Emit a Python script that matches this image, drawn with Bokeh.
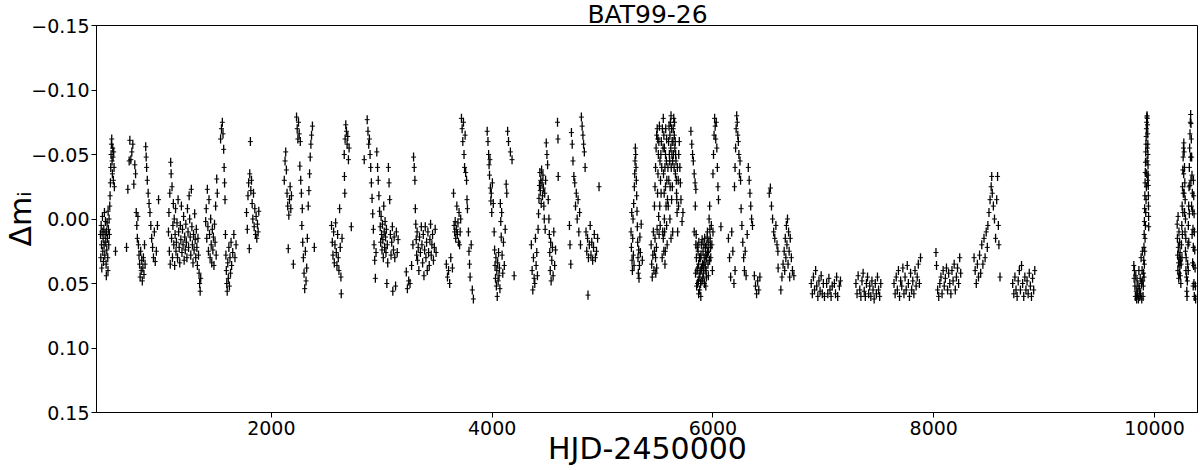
from bokeh.plotting import figure
from bokeh.models import Range1d, FixedTicker, ColumnDataSource
from bokeh.embed import file_html
from bokeh.resources import INLINE

TITLE = "BAT99-26"
X_LABEL = "HJD-2450000"
Y_LABEL = "Δmᵢ"
x_ticks = [2000, 4000, 6000, 8000, 10000]
y_ticks = [-0.15, -0.10, -0.05, 0.00, 0.05, 0.10, 0.15]
y_tick_labels = ["−0.15", "−0.10", "−0.05", "0.00", "0.05", "0.10", "0.15"]
err = 0.0035

season_01 = [(452,0.012),(455,0.030),(458,0.005),(461,0.020),(464,0.038),(467,0.010),(470,-0.002),(473,0.025),(476,0.015),(479,0.033),(482,0.008),(485,0.020),(488,-0.005),(491,0.028),(494,0.012),(497,0.002),(500,0.018),(503,0.035),(506,0.010),(509,0.024),(512,0.003),(515,0.015),(518,0.030),(521,-0.006),(524,0.008),(527,0.020),(530,0.000),(505,0.044),(520,0.040),(533,0.012),(536,-0.010),(539,-0.018),(542,-0.028),(545,-0.040),(548,-0.050),(551,-0.058),(554,-0.062),(557,-0.045),(560,-0.035),(563,-0.055),(566,-0.048),(569,-0.030),(572,-0.052),(575,-0.040),(578,-0.025),(588,0.025)]
season_02 = [(688,0.022),(700,-0.023),(712,-0.045),(718,-0.061),(727,-0.046),(736,-0.052),(745,-0.058),(754,-0.027),(763,-0.042),(770,-0.035),(776,-0.005),(781,0.005),(786,0.015),(791,-0.002),(796,0.020),(801,0.028),(806,0.035),(811,0.045),(816,0.025),(821,0.040),(826,0.032),(831,0.048),(836,0.038),(841,0.030),(846,0.043),(851,0.020),(856,0.035),(862,-0.056),(866,-0.048),(870,-0.040),(876,-0.030),(884,-0.020),(892,-0.012),(900,-0.005),(908,0.005),(916,0.015),(924,0.022),(932,0.030),(940,0.010),(948,0.033),(958,0.025),(968,0.005),(978,-0.015)]
season_03 = [(1068,0.010),(1072,-0.005),(1076,0.025),(1080,-0.020),(1084,0.035),(1088,-0.044),(1092,-0.035),(1096,0.015),(1100,-0.025),(1104,0.030),(1108,0.005),(1112,-0.012),(1116,0.020),(1120,0.000),(1124,0.036),(1128,0.012),(1132,-0.008),(1136,0.025),(1140,0.018),(1145,0.003),(1150,0.030),(1155,-0.015),(1160,0.010),(1165,0.022),(1170,0.034),(1175,0.005),(1180,0.016),(1185,-0.010),(1190,0.026),(1195,0.008),(1200,0.020),(1205,-0.002),(1210,0.032),(1215,0.014),(1220,0.024),(1225,0.004),(1230,0.018),(1235,0.030),(1240,-0.008),(1245,0.010),(1250,0.022),(1255,-0.018),(1260,0.000),(1265,0.014),(1270,0.028),(1275,-0.023),(1280,0.006),(1285,0.020),(1290,0.034),(1295,0.012),(1300,0.024),(1305,-0.004),(1310,0.016),(1315,0.030),(1320,0.008),(1325,0.022),(1330,0.036),(1335,0.015),(1340,0.028),(1345,0.042),(1350,0.050),(1355,0.056),(1360,0.046),(1405,0.002),(1410,-0.008),(1415,0.015),(1420,-0.023),(1425,0.006),(1430,0.025),(1435,-0.015),(1440,0.012),(1445,0.030),(1450,0.000),(1455,0.020),(1460,0.034),(1465,0.008),(1470,0.024),(1475,0.014),(1480,0.036),(1485,0.004),(1490,0.018),(1495,-0.010),(1500,0.028),(1505,-0.031),(1510,-0.020),(1540,-0.062),(1548,-0.070),(1556,-0.075),(1562,-0.066),(1568,-0.054),(1572,-0.040),(1576,-0.028),(1580,-0.015),(1584,0.012),(1588,0.028),(1592,0.040),(1596,0.050),(1600,0.056),(1605,0.034),(1610,0.046),(1615,0.022),(1620,0.052),(1625,0.030),(1630,0.042),(1635,0.018),(1640,0.036),(1650,0.026),(1660,0.012),(1670,0.030),(1680,0.020)]
season_04 = [(1775,-0.005),(1782,0.008),(1788,-0.018),(1794,-0.028),(1800,0.023),(1804,-0.035),(1810,-0.060),(1814,-0.022),(1820,-0.030),(1826,-0.012),(1832,0.000),(1838,-0.020),(1844,0.006),(1850,-0.008),(1856,0.012),(1862,-0.002),(1868,0.015),(1874,0.004),(1880,0.010),(1886,-0.006)]
season_05 = [(2117,-0.030),(2124,-0.045),(2130,-0.052),(2136,-0.038),(2142,-0.020),(2148,-0.010),(2153,0.023),(2158,-0.003),(2164,-0.015),(2170,-0.025),(2176,-0.008),(2182,-0.018),(2199,0.035),(2228,-0.079),(2234,-0.070),(2240,-0.062),(2246,-0.075),(2252,-0.066),(2258,-0.041),(2262,-0.060),(2266,-0.030),(2272,-0.020),(2276,0.005),(2280,-0.008),(2284,0.018),(2290,0.030),(2296,0.042),(2302,0.054),(2308,0.025),(2314,0.048),(2320,0.038),(2326,0.015),(2334,-0.010),(2340,-0.022),(2346,-0.035),(2352,-0.048),(2358,-0.058),(2364,-0.065),(2372,-0.072),(2389,0.022)]
season_06 = [(2545,0.005),(2552,0.018),(2558,0.028),(2564,0.010),(2570,0.034),(2576,0.020),(2582,0.003),(2588,0.026),(2594,0.036),(2600,0.012),(2606,0.030),(2612,0.040),(2618,-0.008),(2624,0.022),(2630,0.045),(2633,0.058),(2640,0.015),(2660,-0.050),(2662,-0.033),(2665,-0.020),(2668,-0.062),(2674,-0.073),(2680,-0.068),(2686,-0.058),(2692,-0.064),(2698,-0.046),(2704,-0.055),(2724,0.006)]
season_07 = [(2841,-0.046),(2868,-0.077),(2875,-0.068),(2882,-0.058),(2888,-0.062),(2894,-0.050),(2900,-0.040),(2906,-0.028),(2912,-0.016),(2918,-0.004),(2924,0.008),(2930,0.020),(2936,0.032),(2942,0.046),(2948,0.026),(2955,-0.052),(2962,-0.040),(2968,-0.030),(2974,-0.018),(2980,-0.006),(2986,0.006),(2990,0.018),(2994,-0.002),(2998,0.012),(3002,0.024),(3006,0.004),(3010,0.016),(3014,0.030),(3018,-0.010),(3022,0.010),(3026,0.022),(3030,0.002),(3034,0.014),(3038,0.026),(3042,0.008),(3046,0.050),(3050,0.020),(3054,0.034),(3060,-0.040),(3066,-0.028),(3072,-0.015),(3078,0.012),(3084,0.028),(3090,0.018),(3096,0.006),(3100,0.056),(3106,0.024),(3112,0.014),(3118,0.030),(3125,0.052),(3132,0.010),(3140,0.026),(3148,0.016)]
season_08 = [(3222,0.041),(3232,0.054),(3244,0.048),(3256,0.050),(3270,0.036),(3282,0.020),(3288,-0.048),(3294,-0.040),(3300,-0.030),(3304,-0.008),(3308,0.004),(3312,0.016),(3316,0.028),(3320,0.010),(3324,0.032),(3330,0.022),(3336,0.040),(3342,0.014),(3350,0.026),(3358,0.006),(3364,0.020),(3370,0.034),(3376,0.012),(3382,0.044),(3388,0.024),(3394,0.006),(3400,0.030),(3406,0.018),(3412,0.040),(3418,0.010),(3424,0.026),(3430,0.036),(3436,0.016),(3442,0.004),(3448,0.028),(3454,0.020),(3460,0.012),(3468,0.032),(3476,0.022),(3484,0.008),(3492,0.026)]
season_09 = [(3585,0.035),(3595,0.045),(3605,0.040),(3615,0.050),(3625,0.030),(3640,0.038),(3650,-0.020),(3655,0.005),(3660,0.010),(3665,0.002),(3670,0.015),(3675,0.008),(3680,-0.010),(3685,0.012),(3690,0.003),(3695,0.018),(3700,-0.005),(3705,0.020),(3710,0.010),(3715,0.000),(3722,-0.078),(3728,-0.070),(3734,-0.060),(3740,-0.075),(3745,-0.050),(3750,-0.040),(3755,-0.065),(3760,-0.036),(3768,-0.030),(3772,-0.015),(3776,-0.008),(3785,0.010),(3790,0.025),(3795,0.035),(3800,0.045),(3810,0.020),(3820,0.055),(3830,0.062)]
season_10 = [(3955,-0.068),(3962,-0.060),(3968,-0.050),(3972,-0.042),(3976,-0.034),(3980,-0.046),(3984,-0.024),(3988,-0.014),(3992,-0.020),(3996,-0.005),(4002,-0.028),(4010,-0.012),(4018,0.010),(4022,0.024),(4026,0.036),(4030,0.046),(4034,0.030),(4038,0.052),(4042,0.040),(4046,0.060),(4050,0.034),(4054,0.048),(4058,0.026),(4062,0.044),(4066,0.038),(4070,0.054),(4074,-0.012),(4078,0.002),(4082,0.014),(4086,-0.005),(4090,0.028),(4096,0.042),(4102,0.018),(4110,0.036),(4118,0.008),(4127,-0.027),(4132,-0.020),(4140,-0.068),(4148,-0.060),(4165,-0.052),(4180,-0.046),(4199,0.044)]
season_11 = [(4355,0.020),(4362,0.040),(4368,0.055),(4374,0.030),(4380,0.046),(4386,0.050),(4392,0.015),(4398,0.036),(4404,0.026),(4410,0.044),(4416,0.008),(4420,-0.004),(4424,-0.016),(4428,-0.026),(4432,-0.036),(4436,-0.022),(4440,-0.030),(4444,-0.012),(4448,-0.038),(4452,-0.028),(4456,-0.018),(4460,-0.034),(4464,-0.024),(4468,-0.010),(4472,0.000),(4476,-0.020),(4480,0.008),(4484,-0.030),(4490,-0.059),(4496,-0.050),(4502,-0.042),(4508,-0.015),(4514,0.000),(4518,0.012),(4522,0.026),(4526,0.040),(4530,0.018),(4534,0.048),(4540,0.032),(4546,0.022),(4552,0.044),(4558,0.010),(4566,0.036),(4574,0.024),(4592,-0.075),(4596,-0.062),(4598,-0.033)]
season_12 = [(4700,0.005),(4705,0.020),(4712,0.035),(4718,-0.067),(4725,-0.058),(4732,-0.045),(4740,-0.033),(4748,-0.028),(4755,-0.010),(4762,-0.020),(4770,0.000),(4778,-0.015),(4785,0.010),(4792,-0.005),(4800,0.020),(4808,-0.079),(4815,-0.072),(4822,-0.065),(4828,-0.058),(4835,-0.052),(4842,-0.040),(4850,0.010),(4857,0.025),(4864,0.015),(4868,0.059),(4872,0.030),(4880,0.020),(4888,0.005),(4895,0.028),(4902,0.018),(4910,0.032),(4918,0.022),(4925,0.012),(4935,0.030),(4945,0.025),(4955,0.015),(4968,-0.025)]
season_13 = [(5258,0.010),(5261,0.022),(5264,-0.005),(5267,0.032),(5270,0.040),(5273,0.015),(5276,0.000),(5279,0.028),(5282,-0.012),(5285,0.036),(5288,-0.025),(5291,-0.035),(5294,-0.045),(5297,-0.055),(5300,-0.050),(5303,-0.040),(5306,-0.030),(5309,-0.018),(5312,-0.006),(5315,0.006),(5318,0.018),(5321,0.030),(5324,0.042),(5327,0.024),(5330,0.046),(5334,0.036),(5338,0.014),(5342,0.026),(5350,0.004),(5360,0.032)]
season_14 = [(5440,0.020),(5445,0.035),(5450,0.045),(5455,0.028),(5460,0.010),(5465,0.040),(5470,0.025),(5475,0.015),(5480,0.030),(5490,0.038),(5470,-0.010),(5475,-0.025),(5480,-0.040),(5485,-0.055),(5490,-0.065),(5495,-0.070),(5500,-0.062),(5505,-0.050),(5510,-0.060),(5515,-0.072),(5520,-0.045),(5525,-0.030),(5530,-0.020),(5540,0.030),(5545,0.010),(5555,0.025),(5565,0.035),(5550,-0.078),(5555,-0.065),(5560,-0.055),(5565,-0.040),(5570,-0.025),(5575,-0.010),(5580,0.005),(5585,0.020),(5550,0.015),(5560,0.000),(5570,-0.050),(5580,-0.062),(5595,-0.010),(5600,-0.030),(5605,-0.050),(5610,-0.065),(5615,-0.075),(5620,-0.080),(5625,-0.070),(5630,-0.060),(5635,-0.045),(5640,-0.070),(5645,-0.078),(5650,-0.065),(5655,-0.055),(5660,-0.035),(5665,-0.045),(5670,-0.020),(5675,-0.005),(5680,0.010),(5685,-0.030),(5690,-0.050),(5700,-0.040),(5710,-0.015),(5720,0.002),(5728,-0.005),(5610,0.000),(5620,0.015),(5625,-0.015),(5635,0.010),(5482,0.042),(5488,0.022),(5494,0.008),(5498,-0.020),(5502,-0.035),(5508,-0.002),(5512,0.012),(5518,-0.010),(5522,0.005),(5528,-0.050),(5532,-0.060),(5536,-0.040),(5542,-0.070),(5548,-0.055),(5552,-0.035),(5558,-0.020),(5562,0.010),(5568,0.025),(5572,-0.070),(5578,-0.045),(5582,-0.030),(5588,-0.015),(5592,-0.040),(5598,-0.060),(5602,-0.072),(5608,-0.045),(5612,-0.025),(5618,-0.055),(5622,-0.040),(5628,-0.050),(5632,-0.025),(5638,-0.060),(5642,-0.050),(5648,-0.040),(5652,-0.075),(5658,-0.060),(5662,-0.050),(5668,-0.030),(5672,-0.015),(5678,-0.040),(5688,-0.010),(5695,-0.060),(5705,-0.028)]
season_15 = [(5800,-0.068),(5808,-0.058),(5815,-0.050),(5822,-0.045),(5830,-0.035),(5838,-0.028),(5845,-0.023),(5830,0.010),(5840,-0.010),(5845,0.020),(5850,0.030),(5855,0.040),(5860,0.050),(5865,0.025),(5870,0.035),(5875,0.045),(5880,0.055),(5885,0.030),(5890,0.040),(5895,0.020),(5900,0.048),(5905,0.035),(5910,0.025),(5915,0.042),(5920,0.030),(5925,0.015),(5930,0.038),(5935,0.028),(5940,0.045),(5945,0.020),(5950,0.010),(5955,0.035),(5960,0.025),(5965,0.000),(5970,-0.010),(5975,0.015),(5980,0.030),(5985,0.005),(5990,0.020),(5995,0.040),(6000,0.010),(5870,0.058),(5890,0.060),(5935,0.052),(5842,0.042),(5848,0.012),(5852,0.052),(5858,0.022),(5862,0.038),(5868,0.048),(5872,0.018),(5878,0.030),(5882,0.042),(5888,0.050),(5892,0.028),(5898,0.038),(5902,0.016),(5908,0.046),(5912,0.036),(5918,0.020),(5922,0.050),(5928,0.034),(5932,0.022),(5938,0.040),(5942,0.030),(5948,0.014),(5952,0.026),(5958,0.044),(5962,0.018),(5968,0.032),(5972,0.008),(5978,0.022),(6000,-0.035),(6005,-0.050),(6010,-0.065),(6015,-0.078),(6020,-0.072),(6025,-0.062),(6030,-0.075),(6035,-0.055),(6040,-0.040),(6045,-0.025),(6050,-0.015),(6072,0.006)]
season_16 = [(6140,0.015),(6150,0.030),(6160,0.045),(6170,0.010),(6180,0.025),(6190,0.050),(6200,0.040),(6195,-0.025),(6200,-0.040),(6205,-0.055),(6210,-0.070),(6215,-0.080),(6220,-0.075),(6225,-0.065),(6230,-0.060),(6235,-0.050),(6240,-0.035),(6245,-0.045),(6250,-0.030),(6255,-0.008),(6262,0.005),(6270,0.018),(6278,0.030),(6285,0.040),(6292,0.025),(6300,0.044),(6310,0.012),(6320,-0.040),(6328,-0.030),(6335,-0.020),(6342,-0.010),(6350,0.000),(6358,0.005),(6375,0.044),(6385,0.052),(6395,0.058),(6405,0.048),(6415,0.055),(6425,0.045)]
season_17 = [(6510,-0.020),(6520,-0.024),(6530,-0.010),(6540,0.000),(6550,0.010),(6560,0.015),(6570,0.005),(6580,0.020),(6588,0.025),(6590,0.038),(6615,0.055),(6625,0.045),(6635,0.035),(6645,0.025),(6650,0.040),(6655,0.015),(6660,0.030),(6665,0.005),(6670,0.020),(6675,0.000),(6680,0.035),(6685,0.010),(6690,0.025),(6695,0.045),(6700,0.015),(6710,0.030),(6720,0.040),(6733,0.044)]
season_18 = [(6890,0.050),(6900,0.058),(6910,0.045),(6920,0.055),(6930,0.040),(6940,0.052),(6950,0.060),(6960,0.048),(6970,0.056),(6980,0.044),(6990,0.058),(7000,0.050),(7010,0.060),(7030,0.050),(7040,0.058),(7050,0.046),(7060,0.055),(7070,0.060),(7080,0.052),(7100,0.050),(7110,0.058),(7120,0.045),(7130,0.060),(7145,0.052),(7155,0.048)]
season_19 = [(7295,0.050),(7305,0.058),(7315,0.044),(7330,0.055),(7340,0.060),(7350,0.048),(7360,0.042),(7370,0.056),(7380,0.060),(7390,0.050),(7400,0.045),(7410,0.058),(7420,0.052),(7430,0.060),(7440,0.048),(7450,0.055),(7460,0.062),(7470,0.050),(7480,0.058),(7490,0.045),(7500,0.055),(7510,0.060),(7520,0.050)]
season_20 = [(7640,0.050),(7650,0.058),(7660,0.045),(7670,0.055),(7680,0.040),(7690,0.060),(7700,0.048),(7710,0.052),(7720,0.038),(7730,0.058),(7740,0.045),(7750,0.055),(7760,0.036),(7770,0.050),(7780,0.060),(7790,0.042),(7800,0.055),(7810,0.048),(7820,0.058),(7830,0.040),(7840,0.052),(7850,0.045),(7860,0.035),(7870,0.050),(7880,0.030)]
season_21 = [(8020,0.026),(8025,0.036),(8035,0.055),(8045,0.060),(8055,0.050),(8065,0.045),(8075,0.058),(8085,0.040),(8095,0.052),(8105,0.046),(8115,0.038),(8125,0.055),(8135,0.042),(8145,0.050),(8155,0.058),(8165,0.040),(8175,0.048),(8185,0.035),(8195,0.055),(8205,0.045),(8215,0.038),(8225,0.050),(8235,0.030),(8244,0.042)]
season_22 = [(8365,0.030),(8375,0.040),(8385,0.050),(8395,0.035),(8405,0.045),(8415,0.028),(8425,0.042),(8435,0.020),(8445,0.035),(8455,0.015),(8465,0.030),(8475,0.010),(8485,0.022),(8490,0.005),(8500,-0.005),(8510,-0.015),(8520,-0.025),(8525,-0.033),(8530,-0.020),(8540,-0.010),(8550,0.000),(8560,0.015),(8570,-0.015),(8578,-0.033),(8585,0.005),(8590,0.020),(8600,0.045)]
season_23 = [(8715,0.050),(8725,0.058),(8735,0.045),(8745,0.055),(8755,0.060),(8765,0.048),(8775,0.040),(8785,0.055),(8795,0.036),(8805,0.050),(8815,0.060),(8825,0.045),(8835,0.055),(8845,0.048),(8855,0.058),(8865,0.042),(8875,0.052),(8885,0.060),(8895,0.046),(8905,0.055),(8915,0.040)]
season_24 = [(9812,0.036),(9815,0.046),(9818,0.040),(9822,0.052),(9826,0.060),(9830,0.044),(9834,0.056),(9838,0.062),(9842,0.048),(9846,0.058),(9850,0.052),(9854,0.062),(9858,0.040),(9862,0.054),(9866,0.060),(9870,0.046),(9874,0.058),(9878,0.030),(9881,0.050),(9884,0.062),(9887,0.040),(9890,0.025),(9893,0.048),(9896,0.060),(9898,0.052),(9900,0.042),(9902,0.032),(9904,0.022),(9906,0.012),(9908,0.002),(9910,-0.008),(9912,-0.018),(9914,-0.028),(9916,-0.036),(9918,-0.044),(9920,-0.052),(9922,-0.058),(9924,-0.064),(9926,-0.070),(9928,-0.075),(9930,-0.079),(9932,-0.080),(9934,-0.078),(9936,-0.073),(9938,-0.066),(9939,-0.058),(9940,-0.050),(9941,-0.042),(9942,-0.034),(9943,-0.026),(9944,-0.018),(9945,-0.010),(9946,-0.002),(9947,0.006),(9905,0.045),(9908,0.035),(9911,0.025),(9914,0.015),(9917,0.005),(9920,-0.005),(9923,-0.015),(9926,-0.025),(9929,-0.035),(9932,-0.045),(9935,-0.055),(9938,-0.030)]
season_25 = [(10205,0.004),(10207,0.015),(10209,0.028),(10211,0.040),(10213,-0.002),(10215,0.022),(10217,0.034),(10219,0.046),(10221,0.010),(10223,0.030),(10225,0.042),(10227,0.018),(10229,0.036),(10231,0.026),(10233,0.044),(10235,0.032),(10238,0.050),(10241,0.035),(10244,0.020),(10247,0.005),(10250,-0.010),(10253,-0.025),(10256,-0.038),(10259,-0.048),(10262,-0.055),(10265,-0.059),(10268,-0.052),(10271,-0.040),(10274,-0.028),(10277,-0.015),(10280,0.000),(10283,0.015),(10286,0.030),(10289,0.045),(10292,0.056),(10248,0.030),(10252,0.012),(10256,-0.005),(10260,-0.020),(10264,-0.035),(10268,-0.020),(10272,-0.005),(10276,0.010),(10280,0.025),(10284,0.040),(10294,0.060),(10297,0.048),(10300,0.035),(10303,0.020),(10306,0.005),(10309,-0.010),(10312,-0.025),(10315,-0.040),(10318,-0.055),(10321,-0.066),(10324,-0.075),(10327,-0.081),(10330,-0.074),(10333,-0.062),(10336,-0.048),(10339,-0.034),(10342,-0.020),(10345,-0.006),(10348,0.008),(10351,0.022),(10354,0.036),(10357,0.050),(10360,0.060),(10305,0.040),(10310,0.018),(10315,-0.004),(10320,-0.026),(10325,-0.048),(10330,-0.030),(10335,-0.010),(10340,0.012),(10345,0.034),(10350,0.052),(10352,-0.030),(10355,-0.018),(10358,-0.004),(10361,0.010),(10364,0.024),(10367,0.038),(10370,0.052),(10372,0.062)]

seasons = [season_01, season_02, season_03, season_04, season_05, season_06, season_07,
           season_08, season_09, season_10, season_11, season_12, season_13, season_14,
           season_15, season_16, season_17, season_18, season_19, season_20, season_21,
           season_22, season_23, season_24, season_25]

hjd = [t for s in seasons for t, _ in s]
dm = [m for s in seasons for _, m in s]

src = ColumnDataSource(dict(x=hjd, y=dm,
                            lo=[m - err for m in dm],
                            hi=[m + err for m in dm]))

FONT = "DejaVu Sans"
W, H = 1198, 468
X0, X1 = 416, 10398

p = figure(width=W, height=H,
           x_range=Range1d(X0, X1), y_range=Range1d(0.15, -0.15),
           output_backend="svg", toolbar_location=None,
           min_border_left=95, min_border_right=0,
           min_border_top=25, min_border_bottom=53)
p.background_fill_color = "white"
p.border_fill_color = "white"
p.outline_line_color = "black"
p.outline_line_width = 1
p.xgrid.visible = False
p.ygrid.visible = False

p.title.text = TITLE
p.title.align = "center"
p.title.text_font = FONT
p.title.text_font_size = "25px"
p.title.text_font_style = "normal"
p.title.text_color = "black"
try:
    p.title.standoff = -6
except Exception:
    try:
        p.title.standoff = 0
    except Exception:
        pass

for ax in (p.xaxis, p.yaxis):
    ax.major_label_text_font = FONT
    ax.major_label_text_font_size = "19px"
    ax.major_label_text_color = "black"
    ax.major_tick_out = 5
    ax.major_tick_in = 0
    ax.minor_tick_out = 0
    ax.minor_tick_in = 0
    ax.major_tick_line_color = "black"
    ax.axis_line_color = "black"
    ax.axis_label_text_font = FONT
    ax.axis_label_text_font_size = "30px"
    ax.axis_label_text_font_style = "normal"
    ax.axis_label_text_color = "black"

p.xaxis.ticker = FixedTicker(ticks=x_ticks)
p.yaxis.ticker = FixedTicker(ticks=y_ticks)
p.yaxis.major_label_overrides = dict(zip(y_ticks, y_tick_labels))
p.xaxis.major_label_standoff = 3
p.yaxis.major_label_standoff = 2

p.xaxis.axis_label = X_LABEL
p.xaxis.axis_label_standoff = -7
p.yaxis.axis_label = Y_LABEL
p.yaxis.axis_label_standoff = -10

p.segment(x0="x", y0="lo", x1="x", y1="hi", source=src, line_color="black", line_width=1.3)
p.dash(x="x", y="y", source=src, size=5, line_color="black", line_width=1)

open("out.html", "w").write(file_html(p, INLINE))
